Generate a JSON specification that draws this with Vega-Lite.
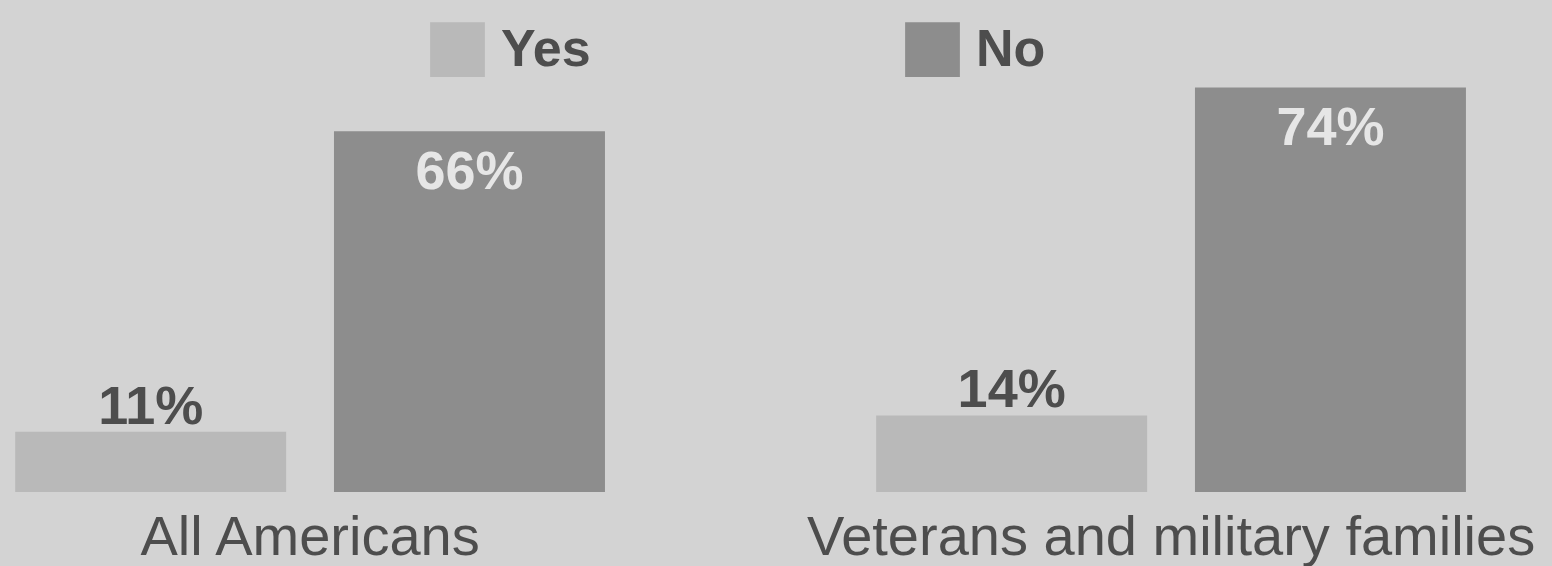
{
  "$schema": "https://vega.github.io/schema/vega-lite/v6.json",
  "width": 1552,
  "height": 492,
  "padding": {"left": 0, "top": 0, "right": 0, "bottom": 74},
  "autosize": {"type": "none"},
  "background": "#d3d3d3",
  "config": {
    "view": {"stroke": null},
    "font": "Liberation Sans"
  },
  "data": {
    "values": [
      {"group": "All Americans", "answer": "Yes", "pct": 11},
      {"group": "All Americans", "answer": "No", "pct": 66},
      {"group": "Veterans and military families", "answer": "Yes", "pct": 14},
      {"group": "Veterans and military families", "answer": "No", "pct": 74}
    ]
  },
  "transform": [{"calculate": "datum.pct + '%'", "as": "label"}],
  "encoding": {
    "x": {
      "field": "group",
      "type": "nominal",
      "sort": null,
      "scale": {"paddingInner": 0.315, "paddingOuter": 0.0588, "align": 0.15},
      "axis": {
        "title": null,
        "ticks": false,
        "domain": false,
        "labelAngle": 0,
        "labelFontSize": 56,
        "labelColor": "#4d4d4d",
        "labelBaseline": "alphabetic",
        "labelPadding": 62,
        "labelLimit": 1000
      }
    },
    "xOffset": {
      "field": "answer",
      "type": "nominal",
      "sort": ["Yes", "No"],
      "scale": {"paddingInner": 0.15, "paddingOuter": 0}
    },
    "y": {
      "field": "pct",
      "type": "quantitative",
      "scale": {"domain": [0, 90]},
      "axis": null
    }
  },
  "layer": [
    {
      "mark": {"type": "bar"},
      "encoding": {
        "color": {
          "field": "answer",
          "type": "nominal",
          "sort": ["Yes", "No"],
          "scale": {"domain": ["Yes", "No"], "range": ["#b9b9b9", "#8d8d8d"]},
          "legend": {
            "title": null,
            "orient": "none",
            "legendX": 430,
            "legendY": 22,
            "direction": "horizontal",
            "columns": 2,
            "columnPadding": 314,
            "padding": 0,
            "symbolType": "square",
            "symbolSize": 3000,
            "symbolStrokeWidth": 0,
            "symbolOpacity": 1,
            "labelFontSize": 52,
            "labelFontWeight": "bold",
            "labelColor": "#4d4d4d",
            "labelOffset": 16
          }
        }
      }
    },
    {
      "transform": [{"filter": "datum.answer === 'Yes'"}],
      "mark": {"type": "text", "baseline": "alphabetic", "dy": -8, "fontSize": 54, "fontWeight": "bold", "color": "#4d4d4d"},
      "encoding": {"text": {"field": "label", "type": "nominal"}, "detail": {"field": "answer"}}
    },
    {
      "transform": [{"filter": "datum.answer === 'No'"}],
      "mark": {"type": "text", "baseline": "alphabetic", "dy": 58, "fontSize": 54, "fontWeight": "bold", "color": "#e6e6e6"},
      "encoding": {"text": {"field": "label", "type": "nominal"}, "detail": {"field": "answer"}}
    }
  ]
}
